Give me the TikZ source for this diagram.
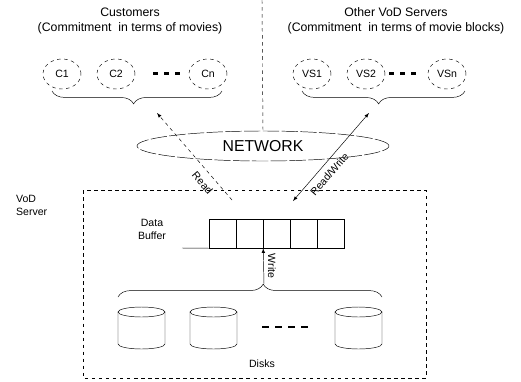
\documentclass[tikz,border=0pt]{standalone}
\usepackage{fontspec}
\setmainfont{Liberation Sans}
\usetikzlibrary{shapes.geometric,decorations.pathreplacing,arrows}

\begin{document}
\begin{tikzpicture}[x=0.03cm,y=-0.03cm,>=latex,thin]
\tikzstyle{every node}=[font=\fontsize{9}{11}\selectfont]
\tikzstyle{client}=[draw,ellipse,dashed,minimum width=1.14cm,minimum height=0.9cm,inner sep=0pt]
\tikzstyle{cell}=[draw,rectangle,minimum width=0.81cm,minimum height=0.87cm,inner sep=0pt]
\tikzstyle{brc}=[decorate,decoration={brace,amplitude=11pt}]
\tikzstyle{title}=[font=\fontsize{10.5}{13}\selectfont,align=center]
\tikzstyle{rim}=[x radius=0.705cm,y radius=0.15cm]

\useasboundingbox (0,0) rectangle (521,381);

% who asks for data
\node[title] (cust) at (130,21) {Customers\\(Commitment \ in terms of movies)};
\node[title] (other) at (396,21) {Other VoD Servers\\(Commitment \ in terms of movie blocks)};

\node[client] (c1) at (62,74) {C1};
\node[client] (c2) at (116,74) {C2};
\node[client] (cn) at (208,74) {Cn};
\foreach \x in {155,166,177} \fill (\x-2,72) rectangle +(5,3);

\node[client] (vs1) at (312,74) {VS1};
\node[client] (vs2) at (366,74) {VS2};
\node[client] (vsn) at (447,74) {VSn};
\foreach \x in {391,402,413} \fill (\x-2,72) rectangle +(5,3);

\draw[brc,decoration={aspect=0.52}] (222,91) -- (52,91);
\draw[brc,decoration={aspect=0.53}] (465,91) -- (302,91);
\coordinate (custin) at (157,113);
\coordinate (vsin) at (369,113);

\node[draw,ellipse,dash pattern=on 14pt off 2pt,minimum width=7.56cm,minimum height=0.9cm,
      font=\fontsize{13.5}{15}\selectfont] (net) at (263,146) {NETWORK};
\draw[dashed] (262,0) -- (net.north);

% the server
\draw[dash pattern=on 3pt off 3pt] (83,190) rectangle (426,378);
\node[align=left,anchor=west] (vod) at (12,205) {VoD\\Server};

\node[align=center] (buflbl) at (152,229) {Data\\Buffer};
\foreach \i in {1,...,5} \node[cell] (b\i) at ({195.5+27*\i},233.5) {};
\draw (182,248) -- (b1.south west);

% disks
\foreach \n/\cx in {d1/141.5,d2/213.5,d3/358.5} {
  \coordinate (\n) at (\cx,328);
  \draw (\cx,312) ellipse [rim];
  \draw (\cx-23.5,312) -- (\cx-23.5,344) arc [start angle=180,end angle=360,rim] -- (\cx+23.5,312);
}
\foreach \x in {262,275,288,301} \fill (\x,326) rectangle +(7,2);
\node (dlbl) at (262,364) {Disks};
\draw[brc,decoration={aspect=0.55}] (118,297) -- (382,297);
\coordinate (dtip) at (264,284);

\coordinate (rdbot) at (232,200);
\coordinate (rwbot) at (293,201);

\draw[dashed,->] (rdbot) -- (custin) node[pos=0.28,sloped,below,inner sep=6pt] {Read};
\draw[<->] (rwbot) -- (vsin) node[pos=0.38,sloped,below,inner sep=5pt] {Read/Write};
\draw[->] (dtip) -- (b2.south east) node[midway,xshift=7pt,rotate=-90] {Write};

\end{tikzpicture}
\end{document}
